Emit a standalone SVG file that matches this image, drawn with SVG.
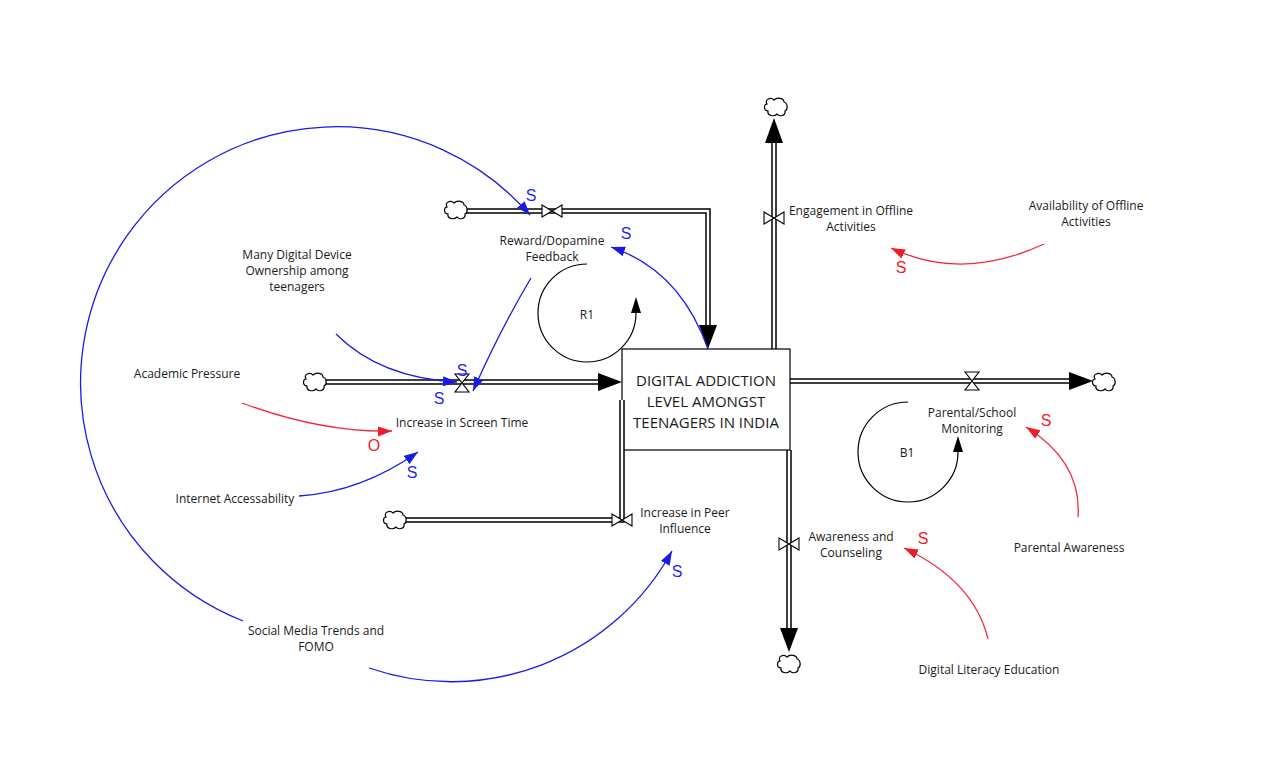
<svg xmlns="http://www.w3.org/2000/svg" width="1280" height="779" viewBox="0 0 1280 779">
<style>
  .lbl { font-family: "Open Sans", "Noto Sans", sans-serif; font-size: 12px; fill: #1a1a1a; text-anchor: middle; }
  .stock { font-family: "Open Sans", "Noto Sans", sans-serif; font-size: 15px; fill: #1a1a1a; text-anchor: middle; }
  .pol { font-family: "Liberation Sans", Arial, sans-serif; font-size: 16px; text-anchor: middle; }
  .pb { fill: #1f1fff; }
  .pr { fill: #ee1c25; }
  .pipeO { fill: none; stroke: #000; stroke-width: 5.5; stroke-linejoin: miter; }
  .pipeI { fill: none; stroke: #fff; stroke-width: 2.5; stroke-linejoin: miter; }
  .blue { fill: none; stroke: #1a1ae6; stroke-width: 1.3; }
  .red { fill: none; stroke: #ee2a3a; stroke-width: 1.3; }
  .loop { fill: none; stroke: #000; stroke-width: 1.2; }
  .cloud { fill: #fff; stroke: #000; stroke-width: 1.2; }
  .valve { fill: #fff; stroke: #000; stroke-width: 1.1; }
  .pa { fill: #000; }
</style>
<defs>
  <marker id="ab" markerUnits="userSpaceOnUse" markerWidth="16" markerHeight="12" refX="14" refY="5" orient="auto">
    <path d="M0,0 L14,5 L0,10 Z" fill="#1a1ae6"/>
  </marker>
  <marker id="ar" markerUnits="userSpaceOnUse" markerWidth="16" markerHeight="12" refX="14" refY="5" orient="auto">
    <path d="M0,0 L14,5 L0,10 Z" fill="#ee1c25"/>
  </marker>
  <marker id="ak" markerUnits="userSpaceOnUse" markerWidth="18" markerHeight="12" refX="0" refY="5" orient="auto">
    <path d="M0,0 L16,5 L0,10 Z" fill="#000"/>
  </marker>
  <path id="cl" d="M -9,-3 C -12,-8 -5,-10 -2,-7 C 1,-10 8,-9 8,-5 C 12,-4 12,3 9,4 C 10,9 3,10 1,7 C -2,10 -9,9 -8,4 C -13,3 -12,-3 -9,-3 Z"/>
  <path id="bow" d="M -10,-6 L 10,6 L 10,-6 L -10,6 Z"/>
  <path id="hour" d="M -7,-9 L 7,-9 L -7,9 L 7,9 Z"/>
</defs>

<rect width="1280" height="779" fill="#fff"/>

<g id="flows">
  <path class="pipeO" d="M 326 382 H 600"/>
  <path class="pipeI" d="M 326 382 H 600"/>
  <polygon class="pa" points="622,382 598,373 598,391"/>
  <path class="pipeO" d="M 466 211 H 708 V 326"/>
  <path class="pipeI" d="M 466 211 H 708 V 326"/>
  <polygon class="pa" points="708,349 699,325 717,325"/>
  <path class="pipeO" d="M 774 349 V 141"/>
  <path class="pipeI" d="M 774 349 V 141"/>
  <polygon class="pa" points="774,118 765,143 783,143"/>
  <path class="pipeO" d="M 790 381 H 1070"/>
  <path class="pipeI" d="M 790 381 H 1070"/>
  <polygon class="pa" points="1093,381 1069,372 1069,390"/>
  <path class="pipeO" d="M 789 450 V 630"/>
  <path class="pipeI" d="M 789 450 V 630"/>
  <polygon class="pa" points="789,652 780,628 798,628"/>
</g>

<g id="stock">
  <rect x="622" y="349" width="168" height="101" fill="#fff" stroke="#000" stroke-width="1.2"/>
  <text class="stock" x="706" y="386">DIGITAL ADDICTION</text>
  <text class="stock" x="706" y="407">LEVEL AMONGST</text>
  <text class="stock" x="706" y="428">TEENAGERS IN INDIA</text>
</g>

<g id="flow-peer">
  <path class="pipeO" d="M 406 520 H 622 V 400"/>
  <path class="pipeI" d="M 406 520 H 622 V 400"/>
</g>

<g id="clouds">
  <use href="#cl" class="cloud" x="315" y="382"/>
  <use href="#cl" class="cloud" x="456" y="210"/>
  <use href="#cl" class="cloud" x="776" y="107"/>
  <use href="#cl" class="cloud" x="1104" y="382"/>
  <use href="#cl" class="cloud" x="789" y="664"/>
  <use href="#cl" class="cloud" x="395" y="520"/>
</g>

<g id="valves">
  <use href="#hour" class="valve" x="462" y="383"/>
  <use href="#bow" class="valve" x="552" y="211"/>
  <use href="#bow" class="valve" x="774" y="218"/>
  <use href="#hour" class="valve" x="972" y="381"/>
  <use href="#bow" class="valve" x="789" y="544"/>
  <use href="#bow" class="valve" x="622" y="520"/>
</g>

<g id="loops">
  <path class="loop" d="M 587 264 A 49 49 0 1 0 636 313" marker-end="url(#ak)"/>
  <text class="lbl" x="587" y="319">R1</text>
  <path class="loop" d="M 908 402 A 50 50 0 1 0 958 452" marker-end="url(#ak)"/>
  <text class="lbl" x="907" y="457">B1</text>
</g>

<g id="connectors">
  <path class="blue" d="M 243 621 A 256 256 0 1 1 530 215" marker-end="url(#ab)"/>
  <path class="blue" d="M 369 668 A 252 252 0 0 0 672 551" marker-end="url(#ab)"/>
  <path class="blue" d="M 336 334 Q 380 378 457 382" marker-end="url(#ab)"/>
  <path class="blue" d="M 531 278 Q 500 330 473 391" marker-end="url(#ab)"/>
  <path class="blue" d="M 708 349 Q 680 270 611 247" marker-end="url(#ab)"/>
  <path class="red" d="M 242 403 Q 323 433 392 431" marker-end="url(#ar)"/>
  <path class="blue" d="M 299 496 Q 361 492 418 452" marker-end="url(#ab)"/>
  <path class="red" d="M 1044 244 Q 962 282 891 248" marker-end="url(#ar)"/>
  <path class="red" d="M 1078 517 Q 1082 462 1026 427" marker-end="url(#ar)"/>
  <path class="red" d="M 988 639 Q 974 581 904 548" marker-end="url(#ar)"/>
</g>

<g id="polarities">
  <text class="pol pb" x="531" y="201">S</text>
  <text class="pol pb" x="626" y="239">S</text>
  <text class="pol pb" x="462" y="376">S</text>
  <text class="pol pb" x="439" y="404">S</text>
  <text class="pol pr" x="374" y="451">O</text>
  <text class="pol pb" x="412" y="478">S</text>
  <text class="pol pb" x="677" y="577">S</text>
  <text class="pol pr" x="901" y="273">S</text>
  <text class="pol pr" x="1046" y="426">S</text>
  <text class="pol pr" x="923" y="544">S</text>
</g>

<g id="labels">
  <g id="n-reward"><text class="lbl" x="552" y="245">Reward/Dopamine</text><text class="lbl" x="552" y="261">Feedback</text></g>
  <g id="n-device"><text class="lbl" x="297" y="259">Many Digital Device</text><text class="lbl" x="297" y="275">Ownership among</text><text class="lbl" x="297" y="291">teenagers</text></g>
  <g id="n-academic"><text class="lbl" x="187" y="378">Academic Pressure</text></g>
  <g id="n-screen"><text class="lbl" x="462" y="427">Increase in Screen Time</text></g>
  <g id="n-internet"><text class="lbl" x="235" y="503">Internet Accessability</text></g>
  <g id="n-social"><text class="lbl" x="316" y="635">Social Media Trends and</text><text class="lbl" x="316" y="651">FOMO</text></g>
  <g id="n-peer"><text class="lbl" x="685" y="517">Increase in Peer</text><text class="lbl" x="685" y="533">Influence</text></g>
  <g id="n-engage"><text class="lbl" x="851" y="215">Engagement in Offline</text><text class="lbl" x="851" y="231">Activities</text></g>
  <g id="n-avail"><text class="lbl" x="1086" y="210">Availability of Offline</text><text class="lbl" x="1086" y="226">Activities</text></g>
  <g id="n-monitor"><text class="lbl" x="972" y="417">Parental/School</text><text class="lbl" x="972" y="433">Monitoring</text></g>
  <g id="n-paware"><text class="lbl" x="1069" y="552">Parental Awareness</text></g>
  <g id="n-counsel"><text class="lbl" x="851" y="541">Awareness and</text><text class="lbl" x="851" y="557">Counseling</text></g>
  <g id="n-literacy"><text class="lbl" x="989" y="674">Digital Literacy Education</text></g>
</g>
</svg>
